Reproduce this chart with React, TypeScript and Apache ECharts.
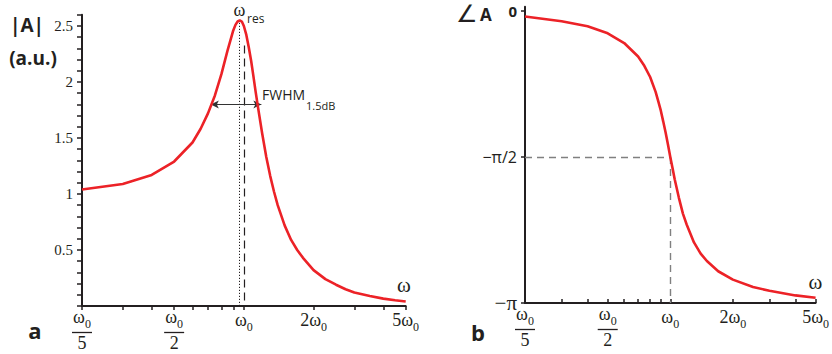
import React, { useEffect, useRef } from "react";
import * as echarts from "echarts";

// ---- data ----
const ampFreq = [0.2, 0.3, 0.4, 0.5, 0.6, 0.65, 0.7, 0.75, 0.8, 0.85, 0.9, 0.92, 0.94, 0.96, 0.98, 1.0, 1.025, 1.05, 1.075, 1.1, 1.125, 1.15, 1.2, 1.25, 1.3, 1.35, 1.4, 1.5, 1.6, 1.7, 1.8, 2.0, 2.25, 2.5, 2.75, 3.0, 3.5, 4.0, 4.5, 5.0];
const ampValues = [1.04, 1.09, 1.17, 1.29, 1.46, 1.58, 1.72, 1.88, 2.07, 2.28, 2.46, 2.51, 2.54, 2.55, 2.54, 2.5, 2.42, 2.31, 2.19, 2.05, 1.91, 1.78, 1.54, 1.33, 1.16, 1.02, 0.9, 0.72, 0.59, 0.5, 0.43, 0.32, 0.24, 0.19, 0.15, 0.12, 0.09, 0.066, 0.052, 0.04];

const phaseFreq = [0.2, 0.3, 0.4, 0.5, 0.6, 0.7, 0.75, 0.8, 0.85, 0.875, 0.9, 0.925, 0.95, 0.975, 1.0, 1.025, 1.05, 1.1, 1.15, 1.2, 1.3, 1.4, 1.5, 1.7, 2.0, 2.5, 3.0, 4.0, 5.0];
const phaseValues = [-0.06, -0.11, -0.165, -0.24, -0.345, -0.49, -0.59, -0.71, -0.87, -0.97, -1.07, -1.19, -1.31, -1.44, -1.5708, -1.69, -1.81, -2.01, -2.18, -2.3, -2.49, -2.61, -2.69, -2.8, -2.89, -2.97, -3.01, -3.06, -3.085];

const xTickValues = [0.2, 0.3, 0.4, 0.5, 0.6, 0.7, 0.8, 0.9, 1, 2, 3, 4, 5];
const xLabelValues = [0.2, 0.5, 1, 2, 5];
const xLabelTexts = ["ω0/5", "ω0/2", "ω0", "2ω0", "5ω0"];

const ampLabelValues = [0.5, 1, 1.5, 2, 2.5];
const phaseTickValues = [-Math.PI, -Math.PI / 2, 0];
const phaseTickLabels = ["−π", "−π/2", "0"];

const resonanceFreq = 0.955;
const resonancePeak = 2.55;
const naturalFreq = 1;
const dashedTop = 2.35;
const dashedBottom = 0.05;
const fwhmLevel = 1.8;
const fwhmLow = 0.72;
const fwhmHigh = 1.19;

// ---- styles ----
const SERIF = '"Liberation Serif", "Times New Roman", serif';
const SANS = '"Open Sans", "Noto Sans", sans-serif';
const INK = "#231f20";
const RED = "#ec2227";

function xLabelFormatter(v: number) {
  const i = xLabelValues.findIndex((x) => Math.abs(x - v) < 1e-9);
  if (i < 0) return "";
  const t = xLabelTexts[i];
  if (t.includes("/")) {
    const [num, den] = t.split("/");
    const pre = num.slice(0, num.indexOf("ω"));
    return `{w|${pre}ω}{s|0}\n{bar| }\n{d|${den}}`;
  }
  const pre = t.slice(0, t.indexOf("ω"));
  return `{w2|${pre}ω}{s2|0}`;
}

const xRich = {
  w: { fontFamily: SERIF, fontSize: 18, color: INK, verticalAlign: "top", align: "center", lineHeight: 22 },
  s: { fontFamily: SERIF, fontSize: 12, color: INK, verticalAlign: "bottom", align: "center" },
  w2: { fontFamily: SERIF, fontSize: 18, color: INK, verticalAlign: "top", align: "center", lineHeight: 25, padding: [3, 0, 0, 0] },
  s2: { fontFamily: SERIF, fontSize: 12, color: INK, verticalAlign: "bottom", align: "center" },
  bar: { width: 20, height: 1.3, lineHeight: 5, fontSize: 1, backgroundColor: INK, align: "center" },
  d: { fontFamily: SERIF, fontSize: 18, color: INK, lineHeight: 16, align: "center" },
};

function makeXAxis(gridIndex: number, inside: boolean) {
  return {
    type: "log",
    logBase: 10,
    gridIndex,
    min: 0.2,
    max: 5,
    axisLine: { show: true, onZero: false, lineStyle: { color: INK, width: 2 } },
    axisTick: { show: true, inside, length: 4, customValues: xTickValues, lineStyle: { color: INK, width: 1.5 } },
    axisLabel: { show: true, customValues: xLabelValues, formatter: xLabelFormatter, rich: xRich, margin: 2, color: INK },
    splitLine: { show: false },
    minorTick: { show: false },
  };
}

function pairs(xs: number[], ys: number[]) {
  return xs.map((x, i) => [x, ys[i]]);
}

function label(text: string, x: number, y: number, extra: any) {
  return {
    type: "text",
    x,
    y,
    style: {
      text,
      align: extra.align || "left",
      textAlign: extra.align || "left",
      verticalAlign: "middle",
      textVerticalAlign: "middle",
      fill: INK,
      fontFamily: extra.fontFamily || SANS,
      fontWeight: extra.fontWeight || "normal",
      fontSize: extra.fontSize || 14,
    },
  };
}

export default function App() {
  const ref = useRef<HTMLDivElement>(null);
  useEffect(() => {
    if (!ref.current) return;
    const chart = echarts.init(ref.current, undefined, { renderer: "svg" });
    const option: any = {
      animation: false,
      backgroundColor: "#fff",
      grid: [
        { left: 82, top: 14.8, width: 323.7, height: 291.2 },
        { left: 525, top: 6.8, width: 291.7, height: 296.2 },
      ],
      xAxis: [makeXAxis(0, false), makeXAxis(1, true)],
      yAxis: [
        {
          type: "value",
          gridIndex: 0,
          min: 0,
          max: 2.6,
          interval: 0.1,
          axisLine: { show: true, onZero: false, lineStyle: { color: INK, width: 2 } },
          axisTick: { show: true, length: 5, lineStyle: { color: INK, width: 1.5 } },
          axisLabel: {
            formatter: (v: number) => {
              const hit = ampLabelValues.find((a) => Math.abs(a - v) < 1e-6);
              return hit !== undefined ? String(hit) : "";
            },
            fontFamily: SERIF,
            fontSize: 15,
            color: INK,
            margin: 9,
          },
          splitLine: { show: false },
        },
        {
          type: "value",
          gridIndex: 1,
          min: -Math.PI,
          max: 0.045,
          axisLine: { show: true, onZero: false, lineStyle: { color: INK, width: 2 } },
          axisTick: { show: true, length: 4, customValues: phaseTickValues, lineStyle: { color: INK, width: 1.5 } },
          axisLabel: {
            customValues: phaseTickValues,
            formatter: (v: number) => {
              const i = phaseTickValues.findIndex((p) => Math.abs(p - v) < 1e-6);
              if (i < 0) return "";
              const t = phaseTickLabels[i];
              if (t === "0") return `{z|${t}}`;
              if (t === "−π") return `{q|${t}}`;
              return `{p|${t}}`;
            },
            rich: {
              z: { fontFamily: SANS, fontWeight: "bold", fontSize: 15, color: INK },
              p: { fontFamily: SANS, fontSize: 16, color: INK },
              q: { fontFamily: SERIF, fontSize: 21, color: INK },
            },
            margin: 8,
          },
          splitLine: { show: false },
        },
      ],
      series: [
        {
          type: "line",
          xAxisIndex: 0,
          yAxisIndex: 0,
          data: pairs(ampFreq, ampValues),
          showSymbol: false,
          symbol: "none",
          lineStyle: { color: RED, width: 2.6 },
          z: 5,
          markLine: {
            silent: true,
            symbol: ["none", "none"],
            label: { show: false },
            animation: false,
            data: [
              [
                { coord: [resonanceFreq, 0], lineStyle: { color: INK, width: 1, type: [1.2, 1.8] } },
                { coord: [resonanceFreq, resonancePeak] },
              ],
              [
                { coord: [naturalFreq, dashedBottom], lineStyle: { color: INK, width: 1.2, type: [8, 5] } },
                { coord: [naturalFreq, dashedTop] },
              ],
              [
                { coord: [fwhmLow, fwhmLevel], symbol: "arrow", symbolSize: [6, 8], lineStyle: { color: "#333", width: 1.2, type: "solid" } },
                { coord: [fwhmHigh, fwhmLevel], symbol: "arrow", symbolSize: [6, 8] },
              ],
            ],
          },
        },
        {
          type: "line",
          xAxisIndex: 1,
          yAxisIndex: 1,
          data: pairs(phaseFreq, phaseValues),
          showSymbol: false,
          symbol: "none",
          lineStyle: { color: RED, width: 2.6 },
          z: 5,
          markLine: {
            silent: true,
            symbol: ["none", "none"],
            label: { show: false },
            animation: false,
            lineStyle: { color: "#808080", width: 1.4, type: [7, 5] },
            data: [
              [{ coord: [0.2, -Math.PI / 2] }, { coord: [naturalFreq, -Math.PI / 2] }],
              [{ coord: [naturalFreq, -Math.PI / 2] }, { coord: [naturalFreq, -Math.PI] }],
            ],
          },
        },
      ],
      graphic: [
        label("|A|", 44, 25, { align: "right", fontWeight: "bold", fontSize: 19 }),
        label("(a.u.)", 33, 58, { align: "center", fontWeight: "bold", fontSize: 19 }),
        label("a", 35, 329.5, { align: "center", fontWeight: "bold", fontSize: 22 }),
        label("b", 478, 332, { align: "center", fontWeight: "bold", fontSize: 22 }),
        label("∠", 456, 14, { fontFamily: '"DejaVu Sans", sans-serif', fontSize: 24 }),
        label("A", 480, 14.5, { fontWeight: "bold", fontSize: 17 }),
        label("ω", 404, 285, { align: "center", fontFamily: SERIF, fontSize: 21 }),
        label("ω", 815.5, 281.5, { align: "center", fontFamily: SERIF, fontSize: 21 }),
        label("ω", 239.5, 10, { align: "center", fontFamily: SERIF, fontSize: 18 }),
        label("res", 247, 18, { fontSize: 12 }),
        label("FWHM", 262, 94, { fontSize: 14 }),
        label("1.5dB", 306, 105, { fontSize: 11 }),
      ],
    };
    chart.setOption(option);
    return () => chart.dispose();
  }, []);
  return (
    <div
      ref={ref}
      style={{ position: "fixed", left: 0, top: 0, width: 832, height: 354, background: "#fff" }}
    />
  );
}
